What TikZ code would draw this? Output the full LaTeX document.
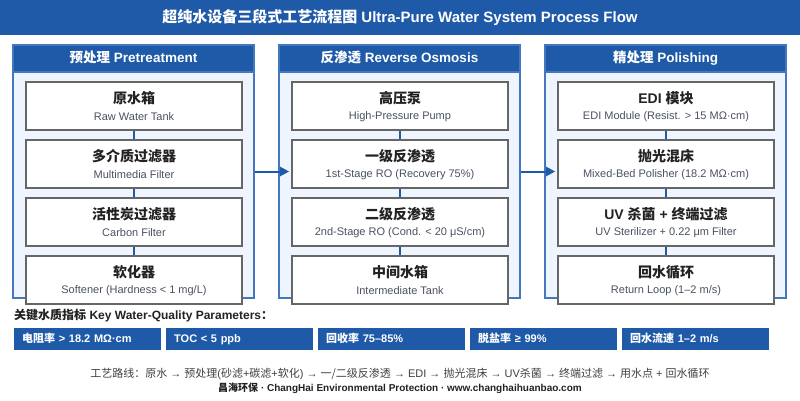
\documentclass[tikz,border=0pt]{standalone}
\usepackage{fontspec}
\setmainfont{Liberation Sans}
\newfontfamily\cjk{Noto Sans CJK SC}
\usetikzlibrary{arrows.meta,positioning}
\newcommand\zh[1]{{\cjk #1}}
\definecolor{mainblue}{HTML}{1F5AA8}
\definecolor{pborder}{HTML}{4477BD}
\definecolor{pbody}{HTML}{EEF5FF}
\definecolor{boxgray}{HTML}{666666}
\definecolor{entext}{HTML}{4A5260}
\definecolor{zhtext}{HTML}{222222}
\tikzset{
  panel/.style={draw=pborder, fill=pbody, line width=1.5pt, minimum width=241pt, minimum height=253pt, inner sep=0pt},
  hdr/.style={draw=pborder, fill=mainblue, line width=1.5pt, minimum width=241pt, minimum height=27pt, inner sep=0pt, text height=10pt, text depth=3pt, text=white, font=\fontsize{13.5}{15}\selectfont\bfseries},
  stepbox/.style={draw=boxgray, fill=white, line width=1.6pt, minimum width=216pt, minimum height=48pt, inner sep=0pt},
  zhlab/.style={font=\fontsize{14}{16}\selectfont\bfseries, text=zhtext, inner sep=0pt},
  enlab/.style={font=\fontsize{11}{13}\selectfont, text=entext, inner sep=0pt},
  link/.style={draw=mainblue, line width=2pt},
  flow/.style={draw=mainblue, line width=2pt, -{Triangle[length=9pt,width=9pt]}},
  param/.style={fill=mainblue, text=white, font=\fontsize{11}{13}\selectfont\bfseries, minimum height=22pt, text width=131pt, text height=8.5pt, text depth=2.5pt, inner xsep=8pt, inner ysep=0pt, align=left, anchor=west},
}
\begin{document}
\begin{tikzpicture}[x=1pt,y=-1pt]
\useasboundingbox (0,0) rectangle (800,400);
\fill[white] (0,0) rectangle (800,400);
% title bar
\node[fill=mainblue, minimum width=800pt, minimum height=35pt, inner sep=0pt, text=white, font=\fontsize{15}{17}\selectfont\bfseries] (title) at (400,17.5) {\zh{超纯水设备三段式工艺流程图} Ultra-Pure Water System Process Flow};
% panels
\node[panel] (p1) at (133.5,171.5) {};
\node[panel] (p2) at (399.5,171.5) {};
\node[panel] (p3) at (665.5,171.5) {};
\node[hdr, anchor=north] (h1) at (p1.north) {\zh{预处理} Pretreatment};
\node[hdr, anchor=north] (h2) at (p2.north) {\zh{反渗透} Reverse Osmosis};
\node[hdr, anchor=north] (h3) at (p3.north) {\zh{精处理} Polishing};
% boxes
\foreach \c/\x in {1/134,2/400,3/666}{
  \foreach \r/\y in {1/106,2/164,3/222,4/280}{
    \coordinate (c\c\r) at (\x,\y);
  }
}
% connectors (drawn beneath boxes)
\foreach \c in {1,2,3}{
  \draw[link] (c\c1) -- (c\c4);
}
\foreach \c in {1,2,3}{
  \foreach \r in {1,2,3,4}{
    \node[stepbox] (b\c\r) at (c\c\r) {};
  }
}
\newcommand\boxtext[3]{%
  \node[zhlab] at ([yshift=8pt]#1.center) {#2};
  \node[enlab] at ([yshift=-11pt]#1.center) {#3};
}
\boxtext{b11}{\zh{原水箱}}{Raw Water Tank}
\boxtext{b12}{\zh{多介质过滤器}}{Multimedia Filter}
\boxtext{b13}{\zh{活性炭过滤器}}{Carbon Filter}
\boxtext{b14}{\zh{软化器}}{Softener (Hardness < 1 mg/L)}
\boxtext{b21}{\zh{高压泵}}{High-Pressure Pump}
\boxtext{b22}{\zh{一级反渗透}}{1st-Stage RO (Recovery 75\%)}
\boxtext{b23}{\zh{二级反渗透}}{2nd-Stage RO (Cond. < 20 μS/cm)}
\boxtext{b24}{\zh{中间水箱}}{Intermediate Tank}
\boxtext{b31}{EDI \zh{模块}}{EDI Module (Resist. > 15 MΩ·cm)}
\boxtext{b32}{\zh{抛光混床}}{Mixed-Bed Polisher (18.2 MΩ·cm)}
\boxtext{b33}{UV \zh{杀菌} + \zh{终端过滤}}{UV Sterilizer + 0.22 μm Filter}
\boxtext{b34}{\zh{回水循环}}{Return Loop (1–2 m/s)}
% flow arrows between panels
\draw[flow] (p1.east) -- ([xshift=-2pt]p1.east -| b21.west);
\draw[flow] (p2.east) -- ([xshift=-2pt]p2.east -| b31.west);
% key parameters
\node[anchor=west, inner sep=0pt, font=\fontsize{12}{14}\selectfont\bfseries, text=zhtext] (keylab) at (14,316) {\zh{关键水质指标} Key Water-Quality Parameters\zh{：}};
\node[param] (k1) at (14,339) {\zh{电阻率} > 18.2 MΩ·cm};
\node[param] (k2) at (166,339) {TOC < 5 ppb};
\node[param] (k3) at (318,339) {\zh{回收率} 75–85\%};
\node[param] (k4) at (470,339) {\zh{脱盐率} ≥ 99\%};
\node[param] (k5) at (622,339) {\zh{回水流速} 1–2 m/s};
% footer
\node[inner sep=0pt, font=\fontsize{11}{13}\selectfont, text=black!75] (route) at (400,374) {\zh{工艺路线：原水} → \zh{预处理}(\zh{砂滤}+\zh{碳滤}+\zh{软化}) → \zh{一/二级反渗透} → EDI → \zh{抛光混床} → UV\zh{杀菌} → \zh{终端过滤} → \zh{用水点} + \zh{回水循环}};
\node[inner sep=0pt, font=\fontsize{10}{12}\selectfont\bfseries, text=zhtext] (brand) at (400,388) {\zh{昌海环保} · ChangHai Environmental Protection · www.changhaihuanbao.com};
\end{tikzpicture}
\end{document}
